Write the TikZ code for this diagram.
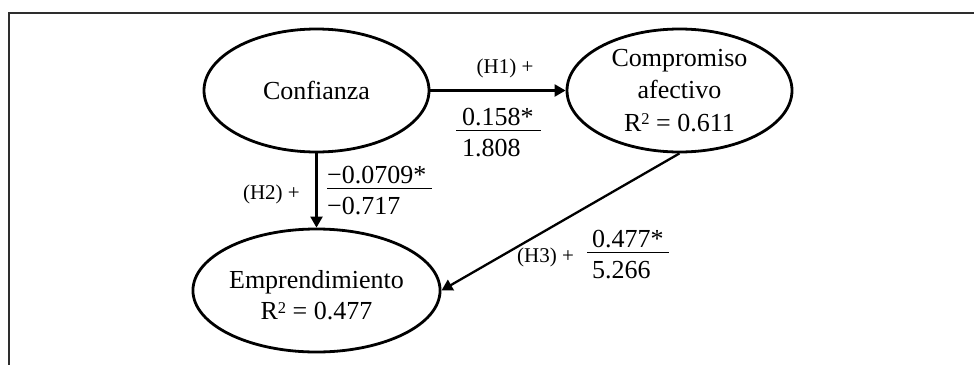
\documentclass[tikz,border=0pt]{standalone}
\usepackage{fontspec}
\setmainfont{Liberation Serif}
\usetikzlibrary{shapes.geometric,arrows.meta}
\definecolor{framegray}{HTML}{2E2E2E}
\newcommand{\fracbox}[4]{{\renewcommand{\arraystretch}{0}\setlength{\arrayrulewidth}{1.3pt}%
 \begin{tabular}[t]{@{\hspace{#1}}l@{\hspace{#2}}}#3\rule[-5pt]{0pt}{18pt}\\\hline\rule{0pt}{25pt}#4\end{tabular}}}
\newcommand{\Rsq}{R\raisebox{6.5pt}{\fontsize{16.5}{16.5}\selectfont 2}}
\tikzset{
  construct/.style={ellipse, draw, line width=2.8pt, minimum width=225pt, minimum height=123pt, inner sep=0pt, align=center, font=\fontsize{26}{32.5}\selectfont},
  arr/.style={line width=2.3pt, -{Triangle[length=11pt,width=12pt]}},
  hyp/.style={inner sep=0pt, font=\fontsize{21}{25}\selectfont},
  coef/.style={inner sep=0pt, anchor=base west, font=\fontsize{26}{30}\selectfont}
}
\begin{document}
\begin{tikzpicture}[x=1pt,y=-1pt]
\useasboundingbox (0,0) rectangle (974,364);
\draw[framegray, line width=2.5pt] (980,13) -- (9,13) -- (9,370);
\node[construct] (conf) at (316.5,90.5) {Confianza};
\node[construct] (comp) at (679.5,90.5) {Compromiso\\afectivo\\\Rsq\ = 0.611};
\node[construct, font=\fontsize{26}{31}\selectfont] (emp) at (316.5,290.5) {\rule{0pt}{27.7pt}Emprendimiento\\\Rsq\ = 0.477};
\draw[arr] (conf) -- (comp);
\draw[arr] (conf) -- (emp);
\draw[arr] (comp.south) -- (emp.east);
\node[hyp, anchor=base] (h1) at (505,73) {(H1) +};
\node[hyp, anchor=base east] (h2) at (300,199) {(H2) +};
\node[hyp, anchor=base west] (h3) at (517,262) {(H3) +};
\node[coef] (c1) at (456,125) {\fracbox{6pt}{7pt}{0.158*}{1.808}};
\node[coef] (c2) at (327,183) {\fracbox{0pt}{6pt}{−0.0709*}{−0.717}};
\node[coef] (c3) at (587,247) {\fracbox{5pt}{5pt}{0.477*}{5.266}};
\end{tikzpicture}
\end{document}
